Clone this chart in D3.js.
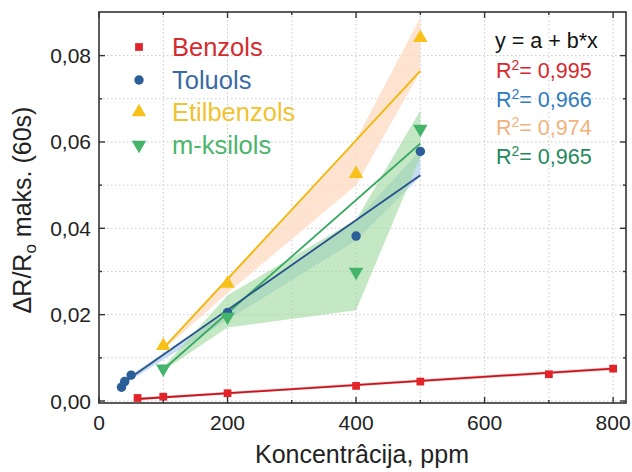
<!DOCTYPE html>
<html>
<head>
<meta charset="utf-8">
<script src="https://cdn.jsdelivr.net/npm/d3@7"></script>
<style>
  body { margin: 0; background: #fff; }
  text { font-family: "Liberation Sans", Arial, sans-serif; }
</style>
</head>
<body>
<svg id="chart" width="632" height="472"></svg>
<script>
// data
var names = ["Benzols", "Toluols", "Etilbenzols", "m-ksilols"];

var benzX = [60, 100, 200, 400, 500, 700, 800];
var benzY = [0.0007, 0.0010, 0.0018, 0.0035, 0.0045, 0.0062, 0.0075];
var tolX = [35, 40, 50, 200, 400, 500];
var tolY = [0.0032, 0.0045, 0.0060, 0.0205, 0.0382, 0.0578];
var etilX = [100, 200, 400, 500];
var etilY = [0.0128, 0.0272, 0.0526, 0.0841];
var ksilX = [100, 200, 400, 500];
var ksilY = [0.0075, 0.0195, 0.0299, 0.0630];

// linear fits y = a + b*x
var fitA = [-0.0001, 0.0003, -0.0039, -0.0058];
var fitB = [9.5e-6, 1.04e-4, 1.607e-4, 1.309e-4];
var r2Labels = ["0,995", "0,966", "0,974", "0,965"];

// shaded bands
var benzBandX = [60, 800], benzBandLo = [0.0002, 0.0071], benzBandHi = [0.0008, 0.0079];
var tolBandX = [35, 50, 200, 400, 500];
var tolBandLo = [0.0030, 0.0049, 0.0188, 0.0372, 0.0520];
var tolBandHi = [0.0044, 0.0061, 0.0212, 0.0419, 0.0580];
var etilBandX = [100, 200, 400, 500];
var etilBandLo = [0.0118, 0.0250, 0.0500, 0.0764];
var etilBandHi = [0.0125, 0.0287, 0.0605, 0.0888];
var ksilBandX = [100, 200, 400, 500];
var ksilBandLo = [0.0070, 0.0170, 0.0210, 0.0565];
var ksilBandHi = [0.0078, 0.0245, 0.0420, 0.0673];

var xTicks = [0, 200, 400, 600, 800];
var xMinor = [100, 300, 500, 700];
var yTicks = [0, 0.02, 0.04, 0.06, 0.08];
var yMinor = [0.01, 0.03, 0.05, 0.07];

var markerCol = ["#e3232a", "#2b5e99", "#f7c11a", "#45b46b"];
var lineCol = ["#c4161c", "#26518a", "#f2b705", "#3aa865"];
var textCol = ["#d52b2e", "#3a6aa6", "#f2c230", "#4bb56c"];
var bandCol = ["#f29a9a", "#bcd6ee", "#fcdcc4", "#9fd89d"];
var bandOp = [0.6, 0.85, 0.8, 0.6];
var r2Col = ["#d8282d", "#2e7bbf", "#f2b27c", "#238a5c"];
var symbols = [d3.symbolSquare, d3.symbolCircle, d3.symbolTriangle, d3.symbolTriangle];

var L = 99, R = 626, T = 12, B = 403;
var svg = d3.select("#chart");
var x = d3.scaleLinear().domain([0, 820]).range([L, R]);
var y = d3.scaleLinear().domain([-0.00046, 0.0901]).range([B, T]);
var fmt = function(v){ return d3.format(".2f")(v).replace(".", ","); };

// grid
var grid = svg.append("g").attr("stroke", "#c9c9c9").attr("stroke-dasharray", "1.5,2.5").attr("stroke-width", 1);
xTicks.concat(xMinor).forEach(function(v){
  if (v === 0) return;
  grid.append("line").attr("x1", x(v)).attr("x2", x(v)).attr("y1", T).attr("y2", B);
});
yTicks.concat(yMinor).forEach(function(v){
  grid.append("line").attr("x1", L).attr("x2", R).attr("y1", y(v)).attr("y2", y(v));
});

// bands
var bands = [
  [benzBandX, benzBandLo, benzBandHi],
  [tolBandX, tolBandLo, tolBandHi],
  [etilBandX, etilBandLo, etilBandHi],
  [ksilBandX, ksilBandLo, ksilBandHi]
];
var area = d3.area()
  .x(function(d){ return x(d[0]); })
  .y0(function(d){ return y(d[1]); })
  .y1(function(d){ return y(d[2]); });
[0, 2, 1, 3].forEach(function(i){
  var b = bands[i];
  var pts = b[0].map(function(v, k){ return [v, b[1][k], b[2][k]]; });
  svg.append("path").attr("d", area(pts)).attr("fill", bandCol[i]).attr("fill-opacity", bandOp[i]);
});

// fit lines
var xs = [benzX, tolX, etilX, ksilX];
var ys = [benzY, tolY, etilY, ksilY];
var line = d3.line().x(function(d){ return x(d[0]); }).y(function(d){ return y(d[1]); });
[0, 2, 3, 1].forEach(function(i){
  var x0 = d3.min(xs[i]), x1 = d3.max(xs[i]);
  svg.append("path")
    .attr("d", line([[x0, fitA[i] + fitB[i]*x0], [x1, fitA[i] + fitB[i]*x1]]))
    .attr("stroke", lineCol[i]).attr("stroke-width", 1.8).attr("fill", "none");
});

// markers
var symSize = [60, 70, 90, 90];
function marker(g, i, cx, cy){
  g.append("path")
    .attr("d", d3.symbol().type(symbols[i]).size(symSize[i])())
    .attr("transform", "translate(" + cx + "," + cy + ")" + (i === 3 ? " rotate(180)" : ""))
    .attr("fill", markerCol[i]);
}
[1, 0, 2, 3].forEach(function(i){
  xs[i].forEach(function(v, k){ marker(svg, i, x(v), y(ys[i][k])); });
});

// frame and ticks
svg.append("rect").attr("x", L).attr("y", T).attr("width", R - L).attr("height", B - T)
  .attr("fill", "none").attr("stroke", "#333").attr("stroke-width", 1.6);
var tk = svg.append("g").attr("stroke", "#333").attr("stroke-width", 1.4);
function xt(v, len){
  tk.append("line").attr("x1", x(v)).attr("x2", x(v)).attr("y1", B).attr("y2", B - len);
  tk.append("line").attr("x1", x(v)).attr("x2", x(v)).attr("y1", T).attr("y2", T + len);
}
function yt(v, len){
  tk.append("line").attr("x1", L).attr("x2", L + len).attr("y1", y(v)).attr("y2", y(v));
  tk.append("line").attr("x1", R).attr("x2", R - len).attr("y1", y(v)).attr("y2", y(v));
}
xTicks.forEach(function(v){ xt(v, 6); });
xMinor.forEach(function(v){ xt(v, 3); });
yTicks.forEach(function(v){ yt(v, 6); });
yMinor.forEach(function(v){ yt(v, 3); });

// tick labels
svg.selectAll(".xl").data(xTicks).enter().append("text")
  .attr("x", function(d){ return x(d); }).attr("y", 430)
  .attr("text-anchor", "middle").attr("font-size", 21).attr("fill", "#222")
  .text(function(d){ return d; });
svg.selectAll(".yl").data(yTicks).enter().append("text")
  .attr("x", 91).attr("y", function(d){ return y(d) + 7.5; })
  .attr("text-anchor", "end").attr("font-size", 21).attr("fill", "#222")
  .text(fmt);

// axis titles
svg.append("text").attr("x", 362).attr("y", 463).attr("text-anchor", "middle")
  .attr("font-size", 25).attr("fill", "#222").text("Koncentrâcija, ppm");
var yt2 = svg.append("text").attr("transform", "translate(31,210) rotate(-90)")
  .attr("text-anchor", "middle").attr("font-size", 25).attr("fill", "#222");
yt2.append("tspan").text("ΔR/R");
yt2.append("tspan").attr("font-size", 17).attr("dy", 5).text("o");
yt2.append("tspan").attr("dy", -5).text(" maks. (60s)");

// legend
var legY = [47, 80, 112, 145];
names.forEach(function(n, i){
  marker(svg, i, 139, legY[i]);
  svg.append("text").attr("x", 172).attr("y", legY[i] + 9)
    .attr("font-size", 25.5).attr("fill", textCol[i]).text(n);
});

// fit annotation
svg.append("text").attr("x", 495).attr("y", 48).attr("font-size", 21.5).attr("fill", "#111")
  .text("y = a + b*x");
var r2Y = [78, 106.5, 135, 163.5];
r2Labels.forEach(function(s, i){
  var t = svg.append("text").attr("x", 496).attr("y", r2Y[i]).attr("font-size", 21.5).attr("fill", r2Col[i]);
  t.append("tspan").text("R");
  t.append("tspan").attr("font-size", 14).attr("dy", -8).text("2");
  t.append("tspan").attr("dy", 8).text("= " + s);
});
</script>
</body>
</html>
